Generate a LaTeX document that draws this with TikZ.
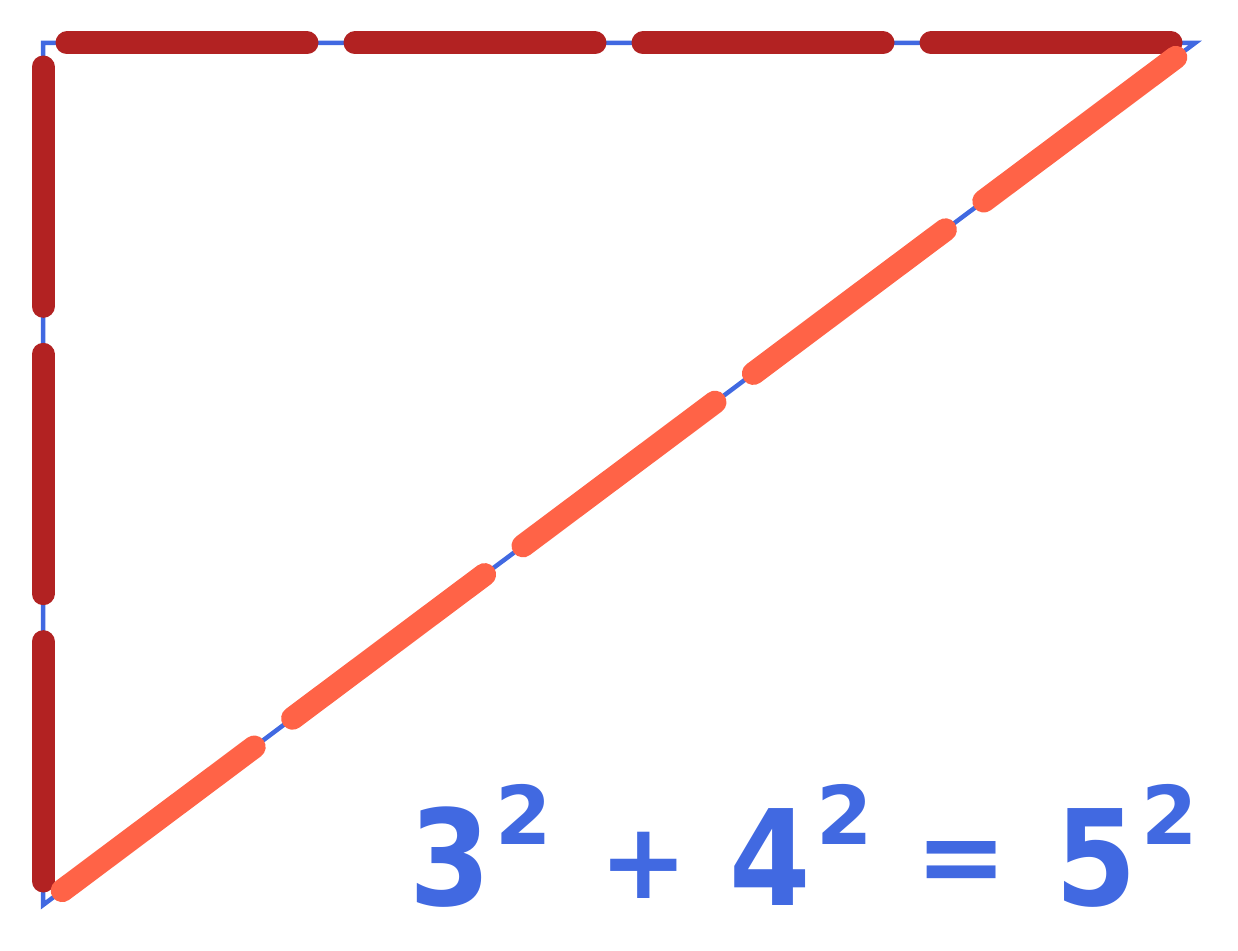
\documentclass[tikz,border=0pt]{standalone}
\usepackage{fontspec}
\usepackage{graphicx}
\usetikzlibrary{calc}
\newfontfamily\eqfont{DejaVu Sans}
\definecolor{royal}{HTML}{4169E1}
\definecolor{fire}{HTML}{B22222}
\definecolor{tomatoc}{HTML}{FF6347}
\newcommand\dg[1]{\scalebox{0.88}[1]{\fontsize{133pt}{133pt}\selectfont #1}}
\newcommand\supr[1]{\raisebox{61pt}{\fontsize{81pt}{81pt}\selectfont #1}}
\newcommand\opplus[1]{\raisebox{7pt}{\scalebox{0.75}{#1}}}
\newcommand\opeq[1]{\raisebox{11pt}{\scalebox{0.78}{#1}}}
\begin{document}
\begin{tikzpicture}[x=1pt,y=-1pt,
  blueline/.style={draw=royal,line width=4.5pt,line join=miter},
  legseg/.style={draw=fire,line width=23pt,line cap=round,shorten <=24pt,shorten >=24pt},
  hypseg/.style={draw=tomatoc,line width=23pt,line cap=round,shorten <=24pt,shorten >=24pt},
  eqtext/.style={inner sep=0pt,text=royal,font=\eqfont\bfseries\fontsize{141pt}{141pt}\selectfont}]
\useasboundingbox (0,0) rectangle (1238,950);
\coordinate (A) at (43,905);
\coordinate (B) at (43,43);
\coordinate (C) at (1195,43);
\draw[blueline] (A) -- (B) -- (C) -- cycle;
\foreach \i in {0,1,2}{
  \pgfmathsetmacro\ta{\i/3}\pgfmathsetmacro\tb{(\i+1)/3}
  \draw[legseg] ($(B)!\ta!(A)$) -- ($(B)!\tb!(A)$);
}
\foreach \i in {0,1,2,3}{
  \pgfmathsetmacro\ta{\i/4}\pgfmathsetmacro\tb{(\i+1)/4}
  \draw[legseg] ($(B)!\ta!(C)$) -- ($(B)!\tb!(C)$);
}
\foreach \i in {0,1,2,3,4}{
  \pgfmathsetmacro\ta{\i/5}\pgfmathsetmacro\tb{(\i+1)/5}
  \draw[hypseg] ($(A)!\ta!(C)$) -- ($(A)!\tb!(C)$);
}
\node[eqtext,anchor=base west] (eq) at (409,905)
  {\dg{3}\hspace{5pt}\supr{2}\hspace{47.7pt}\opplus{+}\hspace{40.7pt}\dg{4}\hspace{6.3pt}\supr{2}\hspace{42.6pt}\opeq{=}\hspace{47.4pt}\dg{5}\hspace{4.5pt}\supr{2}};
\end{tikzpicture}
\end{document}
